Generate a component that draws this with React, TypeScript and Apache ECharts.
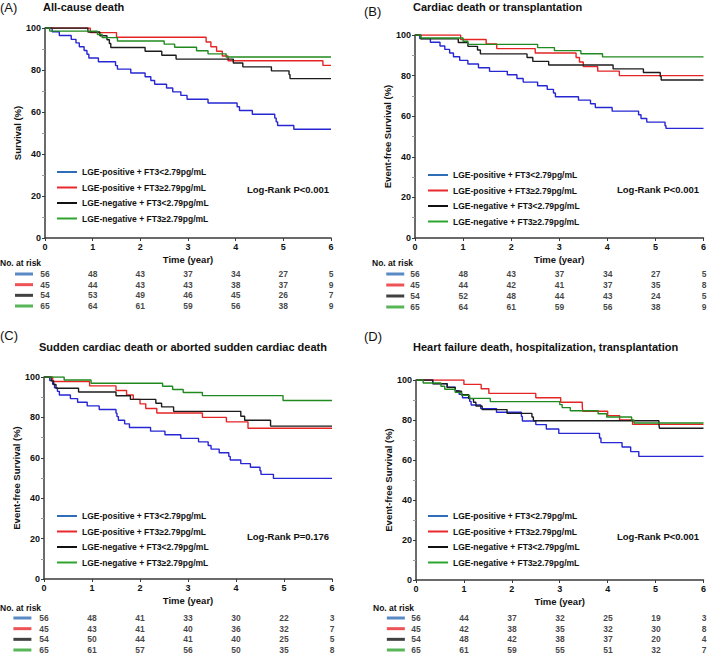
import React, { useEffect, useRef } from "react";
import * as echarts from "echarts";

const FONT = "'Liberation Sans', Arial, Helvetica, sans-serif";

const GROUPS = [
  "LGE-positive + FT3<2.79pg/mL",
  "LGE-positive + FT3≥2.79pg/mL",
  "LGE-negative + FT3<2.79pg/mL",
  "LGE-negative + FT3≥2.79pg/mL",
];
const CURVE_COLORS = ["#2626d2", "#e52424", "#1c1c1c", "#208a20"];
const KEY_COLORS = ["#2f6db6", "#e8282c", "#111111", "#2ea42e"];

const TIME_TICKS = [0, 1, 2, 3, 4, 5, 6];

// Panel A: All-cause death — [time (year), survival % after the step]
const A_BLUE = [[0.15,98.2],[0.3,96.4],[0.55,94.6],[0.65,92.9],[0.72,91.1],[0.82,89.3],[0.88,87.5],[0.92,85.7],[1.12,83.9],[1.48,82.1],[1.52,80.4],[1.8,78.6],[2.1,76.8],[2.22,75.0],[2.3,73.2],[2.55,71.4],[2.68,69.6],[2.85,67.9],[2.98,66.1],[3.42,64.3],[4.03,62.5],[4.08,60.7],[4.35,58.9],[4.82,57.1],[4.85,55.3],[4.88,53.6],[5.22,51.8]];
const A_RED = [[0.95,97.8],[1.5,95.6],[3.38,93.3],[3.48,91.1],[3.6,88.9],[3.72,86.7],[3.84,84.4],[5.83,82.2]];
const A_BLACK = [[0.9,98.1],[1.15,96.3],[1.3,94.4],[1.35,92.6],[1.38,90.7],[2.1,88.9],[2.45,87.0],[2.75,85.2],[3.95,83.3],[4.15,81.5],[4.75,79.6],[5.12,77.8],[5.14,75.9]];
const A_GREEN = [[0.1,98.5],[1.1,96.9],[1.2,95.4],[1.52,93.8],[2.5,92.3],[2.72,90.8],[3.18,89.2],[3.42,87.7],[3.8,86.2]];

// Panel B: Cardiac death or transplantation
const B_BLUE = [[0.1,98.2],[0.32,96.4],[0.52,94.6],[0.62,92.9],[0.72,91.1],[0.8,89.3],[0.93,87.5],[1.1,85.7],[1.32,83.9],[1.55,82.1],[1.92,80.4],[2.12,78.6],[2.25,76.8],[2.55,75.0],[2.75,73.2],[2.88,71.4],[2.92,69.6],[3.4,67.9],[3.65,66.1],[3.75,64.3],[4.1,62.5],[4.65,60.7],[4.7,58.9],[4.82,57.1],[5.2,55.3],[5.22,54.0]];
const B_RED = [[0.95,97.8],[1.48,95.6],[1.7,93.3],[2.5,91.1],[3.35,88.9],[3.42,86.7],[3.5,84.4],[3.8,82.2],[4.25,80.0]];
const B_BLACK = [[0.12,98.1],[0.9,96.3],[1.1,94.4],[1.3,92.6],[1.36,90.7],[2.33,88.9],[2.45,87.0],[2.78,85.2],[4.12,83.3],[4.75,81.5],[5.1,79.6],[5.12,77.8]];
const B_GREEN = [[0.12,98.5],[1.0,96.9],[1.1,95.4],[2.55,93.8],[2.9,92.3],[3.45,90.8],[3.9,89.2]];

// Panel C: Sudden cardiac death or aborted sudden cardiac death
const C_BLUE = [[0.12,98.2],[0.18,96.4],[0.22,94.6],[0.28,92.9],[0.32,91.1],[0.55,89.3],[0.7,87.5],[0.9,85.7],[1.15,83.9],[1.5,82.1],[1.52,80.4],[1.55,78.6],[1.68,76.8],[1.78,75.0],[2.22,73.2],[2.52,71.4],[2.85,69.6],[3.22,67.9],[3.42,66.1],[3.48,64.3],[3.65,62.5],[3.85,60.7],[3.88,58.9],[4.1,57.1],[4.3,55.3],[4.5,53.6],[4.52,51.8],[4.78,49.8]];
const C_RED = [[0.18,97.8],[0.95,95.6],[1.5,93.3],[1.72,91.1],[1.86,88.9],[2.0,86.7],[2.12,84.4],[2.35,82.2],[3.3,80.0],[3.8,77.8],[4.25,74.6]];
const C_BLACK = [[0.15,98.1],[0.2,96.3],[0.25,94.4],[0.72,92.6],[1.5,90.7],[1.8,88.9],[2.33,87.0],[2.45,85.2],[2.7,83.0],[4.1,80.6],[4.18,78.6],[4.72,75.7]];
const C_GREEN = [[0.42,98.5],[0.98,96.9],[2.47,95.4],[2.68,93.8],[2.9,92.3],[3.3,90.8],[4.98,88.4]];

// Panel D: Heart failure death, hospitalization, transplantation
const D_BLUE = [[0.35,98.2],[0.65,96.4],[0.82,94.6],[0.9,92.9],[0.97,91.1],[1.12,89.3],[1.15,87.5],[1.35,85.7],[1.68,83.9],[2.2,81.8],[2.22,79.5],[2.5,77.7],[2.72,75.5],[2.98,73.3],[3.83,71.0],[3.86,68.7],[4.3,66.5],[4.48,64.2],[4.65,61.8]];
const D_RED = [[1.0,97.8],[1.36,95.6],[1.52,93.3],[2.5,91.1],[3.02,88.9],[3.47,86.7],[3.48,84.4],[4.0,82.2],[4.25,80.0],[4.52,77.8]];
const D_BLACK = [[0.35,98.1],[0.65,96.3],[0.82,94.4],[0.95,92.6],[1.1,90.7],[1.2,88.9],[1.25,87.0],[1.38,85.2],[1.9,83.3],[2.42,81.5],[2.45,79.6],[5.07,77.8],[5.08,75.9]];
const D_GREEN = [[0.15,98.5],[0.52,96.9],[0.6,95.4],[0.82,93.8],[0.95,92.3],[1.12,90.8],[1.55,89.2],[3.0,87.7],[3.05,86.2],[3.22,84.6],[3.8,83.1],[3.98,81.5],[4.5,80.0],[4.55,78.5]];

// Numbers at risk at years 0..6
const A_RISK = [[56,48,43,37,34,27,5],[45,44,43,43,38,37,9],[54,53,49,46,45,26,7],[65,64,61,59,56,38,9]];
const B_RISK = [[56,48,43,37,34,27,5],[45,44,42,41,37,35,8],[54,52,48,44,43,24,5],[65,64,61,59,56,38,9]];
const C_RISK = [[56,48,41,33,30,22,3],[45,43,41,40,36,32,7],[54,50,44,41,40,25,5],[65,61,57,56,50,35,8]];
const D_RISK = [[56,44,37,32,25,19,3],[45,42,38,35,32,30,8],[54,48,42,38,37,20,4],[65,61,59,55,51,32,7]];

const LETTERS = ["(A)", "(B)", "(C)", "(D)"];
const TITLES = [
  "All-cause death",
  "Cardiac death or transplantation",
  "Sudden cardiac death or aborted sudden cardiac death",
  "Heart failure death, hospitalization, transplantation",
];
const Y_NAMES = ["Survival (%)", "Event-free Survival (%)", "Event-free Survival (%)", "Event-free Survival (%)"];
const LOG_RANK = ["Log-Rank P<0.001", "Log-Rank P<0.001", "Log-Rank P=0.176", "Log-Rank P<0.001"];
const CURVES = [
  [A_BLUE, A_RED, A_BLACK, A_GREEN],
  [B_BLUE, B_RED, B_BLACK, B_GREEN],
  [C_BLUE, C_RED, C_BLACK, C_GREEN],
  [D_BLUE, D_RED, D_BLACK, D_GREEN],
];
const RISKS = [A_RISK, B_RISK, C_RISK, D_RISK];

// Layout (pixels)
const LAYOUT = [
  { plot: { left: 45, top: 28, width: 286, height: 210 }, risk: { top: 274, height: 32 }, yGap: 18, legend: { left: 57, top: 166.5 }, logRank: [247, 189], noRisk: [0, 263], swatchX: -0.44, letter: [0, 7], title: [43, 7] },
  { plot: { left: 415, top: 35, width: 289, height: 203 }, risk: { top: 274, height: 33 }, yGap: 13, legend: { left: 428, top: 169.5 }, logRank: [617, 189], noRisk: [372, 263], swatchX: -0.41, letter: [364, 11], title: [413, 7] },
  { plot: { left: 44, top: 377, width: 288, height: 202 }, risk: { top: 618, height: 32 }, yGap: 9, legend: { left: 57, top: 510.5 }, logRank: [247, 536], noRisk: [0, 608], swatchX: -0.45, letter: [0, 335], title: [39, 347] },
  { plot: { left: 416, top: 380, width: 288, height: 200 }, risk: { top: 618, height: 32 }, yGap: 13, legend: { left: 428, top: 510.5 }, logRank: [617, 536], noRisk: [373, 608], swatchX: -0.42, letter: [364, 336], title: [413, 347] },
];

function buildCurve(steps: number[][]) {
  const pts = [[0, 100], ...steps];
  const last = pts[pts.length - 1][1];
  pts.push([6, last]);
  return pts;
}

function buildOption() {
  const grid: any[] = [];
  const xAxis: any[] = [];
  const yAxis: any[] = [];
  const series: any[] = [];
  const legend: any[] = [];
  const graphic: any[] = [];
  const axisColor = "#3a3a3a";

  LAYOUT.forEach((L, p) => {
    const gi = grid.length;
    grid.push({ ...L.plot });
    xAxis.push({
      gridIndex: gi, type: "value", min: 0, max: 6, interval: 1,
      name: "Time (year)", nameLocation: "middle", nameGap: 16,
      nameTextStyle: { fontFamily: FONT, fontWeight: "bold", fontSize: 9.5, color: "#111" },
      axisLine: { onZero: false, lineStyle: { color: axisColor, width: 1.5 } },
      axisTick: { length: 3, lineStyle: { color: axisColor } },
      axisLabel: { margin: 4, fontFamily: FONT, fontWeight: "bold", fontSize: 9, color: "#111",
        formatter: (v: number) => (TIME_TICKS.includes(v) ? String(v) : "") },
      splitLine: { show: false },
    });
    yAxis.push({
      gridIndex: gi, type: "value", min: 0, max: 100, interval: 20,
      name: Y_NAMES[p], nameLocation: "middle", nameGap: L.yGap, nameRotate: 90,
      nameTextStyle: { fontFamily: FONT, fontWeight: "bold", fontSize: 9.5, color: "#111" },
      axisLine: { show: true, lineStyle: { color: axisColor, width: 1.5 } },
      axisTick: { show: true, length: 3, lineStyle: { color: axisColor } },
      minorTick: { show: true, splitNumber: 2, length: 3, lineStyle: { color: "#999" } },
      axisLabel: { margin: 4, fontFamily: FONT, fontWeight: "bold", fontSize: 9, color: "#111" },
      splitLine: { show: false },
    });
    CURVES[p].forEach((steps, k) => {
      series.push({
        type: "line", name: GROUPS[k], xAxisIndex: gi, yAxisIndex: gi,
        step: "end", symbol: "none", data: buildCurve(steps),
        lineStyle: { color: CURVE_COLORS[k], width: 1.4 },
        itemStyle: { color: CURVE_COLORS[k] },
        z: 3 + k,
      });
    });
    legend.push({
      left: L.legend.left, top: L.legend.top, orient: "vertical", padding: 0,
      itemGap: 4.5, itemWidth: 20, itemHeight: 2, icon: "rect",
      selectedMode: false,
      textStyle: { fontFamily: FONT, fontWeight: "bold", fontSize: 8.5, lineHeight: 11, color: "#111" },
      data: GROUPS.map((g, k) => ({ name: g, itemStyle: { color: KEY_COLORS[k] } })),
    });

    // risk table grid
    const ri = grid.length;
    grid.push({ left: L.plot.left, width: L.plot.width, top: L.risk.top, height: L.risk.height });
    xAxis.push({ gridIndex: ri, type: "value", min: 0, max: 6, show: false });
    yAxis.push({ gridIndex: ri, type: "value", min: 0, max: 3, inverse: true, show: false });
    RISKS[p].forEach((row, k) => {
      series.push({
        type: "scatter", name: "risk-" + p + "-" + k, xAxisIndex: ri, yAxisIndex: ri,
        symbolSize: 1, itemStyle: { color: "rgba(0,0,0,0)" },
        data: row.map((n, t) => [TIME_TICKS[t], k, n]),
        label: { show: true, position: "inside", formatter: (q: any) => String(q.value[2]),
          fontFamily: FONT, fontWeight: "bold", fontSize: 8.5, color: "#111" },
      });
      series.push({
        type: "scatter", name: "swatch-" + p + "-" + k, xAxisIndex: ri, yAxisIndex: ri,
        clip: false, symbol: "rect", symbolSize: [18, 3],
        itemStyle: { color: KEY_COLORS[k] },
        data: [[L.swatchX, k]],
      });
    });

    graphic.push(
      { type: "text", x: L.letter[0], y: L.letter[1], style: { text: LETTERS[p], fontFamily: FONT, fontSize: 13, fill: "#111", verticalAlign: "middle" } },
      { type: "text", x: L.title[0], y: L.title[1], style: { text: TITLES[p], fontFamily: FONT, fontWeight: "bold", fontSize: 11, fill: "#111", verticalAlign: "middle" } },
      { type: "text", x: L.logRank[0], y: L.logRank[1], style: { text: LOG_RANK[p], fontFamily: FONT, fontWeight: "bold", fontSize: 9.5, fill: "#111", verticalAlign: "middle" } },
      { type: "text", x: L.noRisk[0], y: L.noRisk[1], style: { text: "No. at risk", fontFamily: FONT, fontWeight: "bold", fontSize: 8.5, fill: "#111", verticalAlign: "middle" } },
    );
  });

  return { animation: false, backgroundColor: "#ffffff", grid, xAxis, yAxis, series, legend, graphic };
}

export default function App() {
  const ref = useRef<HTMLDivElement>(null);
  useEffect(() => {
    if (!ref.current) return;
    const chart = echarts.init(ref.current, undefined, { renderer: "svg" });
    chart.setOption(buildOption() as any);
    return () => chart.dispose();
  }, []);
  return (
    <div
      ref={ref}
      style={{ position: "fixed", left: 0, top: 0, width: 709, height: 655, background: "#fff" }}
    />
  );
}
